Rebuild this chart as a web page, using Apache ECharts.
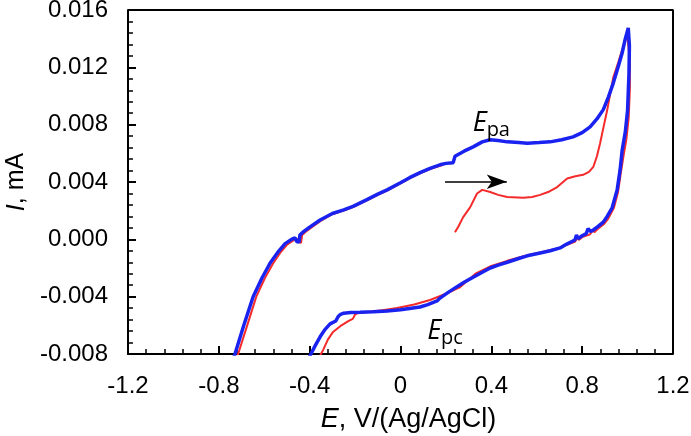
<!DOCTYPE html>
<html>
<head>
    <meta charset="utf-8">
    <title>CV</title>
    <script src="https://cdn.jsdelivr.net/npm/echarts@6/dist/echarts.min.js"></script>
    <style>
        html, body { margin: 0; padding: 0; background: #fff; }
        #chart { width: 691px; height: 436px; }
    </style>
</head>
<body>
<div id="chart"></div>
<script>
    // axis ticks
    let xMin = -1.2, xMax = 1.2, xStep = 0.4;
    let yMin = -0.008, yMax = 0.016, yStep = 0.004;
    let xTickLabels = ['-1.2', '-0.8', '-0.4', '0', '0.4', '0.8', '1.2'];
    let yTickLabels = ['-0.008', '-0.004', '0.000', '0.004', '0.008', '0.012', '0.016'];

    // blue curve: E (V), I (mA)
    let blueE = [-0.739, -0.729, -0.69, -0.649, -0.61, -0.574, -0.54, -0.508, -0.48, -0.465, -0.457, -0.447, -0.443, -0.43,
        -0.40, -0.354, -0.30, -0.25, -0.209, -0.15, -0.10, -0.059, 0.0, 0.04, 0.086, 0.13, 0.174, 0.20, 0.232, 0.24,
        0.28, 0.32, 0.36, 0.395, 0.43, 0.47, 0.52, 0.558, 0.61, 0.659, 0.71, 0.76, 0.80, 0.835, 0.865, 0.893, 0.915,
        0.937, 0.958, 0.976, 0.99, 1.003,
        1.008, 1.006, 1.0, 0.99, 0.976, 0.967, 0.954, 0.932, 0.91, 0.893, 0.87, 0.849, 0.838, 0.826, 0.818, 0.80,
        0.782, 0.775, 0.768, 0.73, 0.703, 0.659, 0.615, 0.558, 0.527, 0.47, 0.43, 0.395, 0.36, 0.32, 0.28, 0.249,
        0.21, 0.174, 0.161, 0.12, 0.086, 0.0, -0.059, -0.12, -0.178, -0.22, -0.25, -0.266, -0.275, -0.285, -0.31,
        -0.333, -0.354, -0.375, -0.398, -0.41];
    let blueI = [-0.0085, -0.008, -0.006, -0.004, -0.0027, -0.00165, -0.0009, -0.0003, 0.0, 0.0001, -0.00015, -0.0002, 0.0003, 0.0005,
        0.00085, 0.00135, 0.0018, 0.00205, 0.0023, 0.00275, 0.00315, 0.00345, 0.00395, 0.0043, 0.00465, 0.00495, 0.0052, 0.0053, 0.00535, 0.0058,
        0.00615, 0.00645, 0.0068, 0.00695, 0.0069, 0.0068, 0.00675, 0.0067, 0.00675, 0.0068, 0.00695, 0.00715, 0.00745, 0.00785, 0.0084, 0.00905, 0.0099,
        0.0109, 0.012, 0.013, 0.014, 0.01475,
        0.0135, 0.0115, 0.009, 0.0075, 0.0062, 0.00485, 0.00345, 0.0022, 0.0016, 0.0012, 0.0009, 0.00065, 0.00055, 0.00075, 0.0004, 0.00025,
        0.00005, 0.0003, -0.00005, -0.00035, -0.0006, -0.0008, -0.00095, -0.00115, -0.0013, -0.0016, -0.0018, -0.002, -0.0023, -0.00265, -0.003, -0.0033,
        -0.0037, -0.0041, -0.0043, -0.00455, -0.00472, -0.00492, -0.005, -0.00505, -0.00508, -0.0051, -0.00515, -0.00525, -0.0054, -0.0057, -0.0059,
        -0.0063, -0.0068, -0.0074, -0.0081, -0.0086];

    // red curve: E (V), I (mA)
    let redE = [0.24, 0.255, 0.276, 0.307, 0.337, 0.36, 0.395, 0.43, 0.47, 0.54, 0.58, 0.615, 0.65, 0.69, 0.734, 0.77,
        0.804, 0.83, 0.849, 0.865, 0.879, 0.895, 0.91, 0.937, 0.958, 0.976, 0.998,
        1.01, 1.01, 1.005, 0.995, 0.982, 0.97, 0.958, 0.94, 0.915, 0.895, 0.87, 0.855, 0.845, 0.835, 0.80, 0.785,
        0.778, 0.77, 0.73, 0.70, 0.62, 0.55, 0.47, 0.40, 0.33, 0.263, 0.2, 0.13, 0.06, -0.015, -0.08, -0.147, -0.19,
        -0.2, -0.21, -0.23, -0.26, -0.297, -0.32, -0.34, -0.354, -0.36,
        -0.722, -0.715, -0.675, -0.635, -0.597, -0.562, -0.53, -0.498, -0.47, -0.455, -0.448, -0.438, -0.433, -0.42,
        -0.39, -0.35, -0.30, -0.25, -0.209, -0.15, -0.10, -0.059, 0.0, 0.04, 0.086, 0.13, 0.188];
    let redI = [0.0005, 0.0009, 0.00155, 0.00225, 0.0032, 0.00345, 0.0033, 0.0031, 0.00295, 0.0029, 0.00295, 0.0031, 0.0033, 0.00365, 0.00425, 0.0044,
        0.0045, 0.0047, 0.00505, 0.0058, 0.0067, 0.0079, 0.009, 0.0113, 0.0123, 0.0132, 0.0143,
        0.0125, 0.0105, 0.0085, 0.007, 0.0058, 0.0046, 0.0033, 0.0022, 0.00145, 0.00105, 0.00075, 0.0005, 0.0006, 0.00035, 0.00015, -0.00005,
        0.00015, -0.00015, -0.0004, -0.0006, -0.0009, -0.00115, -0.0015, -0.00185, -0.0024, -0.00333, -0.0038, -0.00423, -0.00455, -0.00479, -0.00495, -0.00507, -0.00515,
        -0.00525, -0.00555, -0.0057, -0.006, -0.00646, -0.007, -0.0077, -0.0081, -0.0086,
        -0.0086, -0.008, -0.006, -0.004, -0.0027, -0.0017, -0.00095, -0.00035, -0.00005, 0.00005, -0.0002, -0.00025, 0.0003, 0.0005,
        0.00085, 0.0013, 0.00175, 0.002, 0.00225, 0.0027, 0.0031, 0.0034, 0.0039, 0.00425, 0.0046, 0.0049, 0.0052];

    function zip(a, b) {
        return a.map(function (v, i) { return [v, b[i]]; });
    }

    let myChart = echarts.init(document.getElementById('chart'));
    let font = 'Liberation Sans, Arial, sans-serif';
    let noteFont = 'Open Sans, sans-serif';

    let axisCommon = {
        axisLine: {onZero: false, lineStyle: {color: '#000', width: 2}},
        axisTick: {inside: true, length: 8, lineStyle: {color: '#000', width: 2}},
        minorTick: {show: true, splitNumber: 5, length: 5, lineStyle: {color: '#000', width: 1.5}},
        splitLine: {show: false}
    };

    let option = {
        animation: false,
        grid: {
            left: 128, right: 18, top: 10, bottom: 82,
            outerBoundsMode: 'none'
        },
        xAxis: Object.assign({
            type: 'value',
            min: xMin, max: xMax, interval: xStep,
            name: '{i|E}, V/(Ag/AgCl)',
            nameLocation: 'middle',
            nameGap: 52,
            nameTextStyle: {
                color: '#000', fontSize: 27, fontFamily: font, padding: [0, 0, 0, 16],
                rich: {i: {fontStyle: 'italic', fontSize: 27, fontFamily: font, color: '#000'}}
            },
            axisLabel: {
                color: '#000', fontSize: 24, fontFamily: font, margin: 20,
                formatter: function (v) { return xTickLabels[Math.round((v - xMin) / xStep)]; }
            }
        }, axisCommon),
        yAxis: Object.assign({
            type: 'value',
            min: yMin, max: yMax, interval: yStep,
            name: '{i|I}, mA',
            nameLocation: 'middle',
            nameGap: 98,
            nameTextStyle: {
                color: '#000', fontSize: 25, fontFamily: font,
                rich: {i: {fontStyle: 'italic', fontSize: 25, fontFamily: font, color: '#000'}}
            },
            axisLabel: {
                color: '#000', fontSize: 24, fontFamily: font, margin: 20,
                formatter: function (v) { return yTickLabels[Math.round((v - yMin) / yStep)]; }
            }
        }, axisCommon),
        series: [
            {
                // top and right edges of the plot frame
                name: 'frame',
                type: 'line',
                data: [[xMin, yMax], [xMax, yMax], [xMax, yMin]],
                showSymbol: false,
                clip: false,
                silent: true,
                lineStyle: {color: '#000', width: 2},
                z: 1
            },
            {
                name: 'red',
                type: 'line',
                data: zip(redE, redI),
                showSymbol: false,
                smooth: false,
                lineStyle: {color: '#f52a2a', width: 2}
            },
            {
                name: 'blue',
                type: 'line',
                data: zip(blueE, blueI),
                showSymbol: false,
                smooth: false,
                lineStyle: {color: '#1a22f0', width: 3.5},
                markPoint: {
                    symbol: 'circle',
                    symbolSize: 0,
                    silent: true,
                    label: {
                        show: true,
                        position: 'inside',
                        color: '#000',
                        rich: {
                            e: {fontSize: 27, fontStyle: 'italic', fontFamily: noteFont, color: '#000'},
                            s: {fontSize: 20, fontFamily: noteFont, color: '#000', padding: [14, 0, 0, 0]}
                        }
                    },
                    data: [
                        {coord: [0.40, 0.0081], label: {formatter: '{e|E}{s|pa}'}},
                        {coord: [0.196, -0.0064], label: {formatter: '{e|E}{s|pc}'}}
                    ]
                },
                markLine: {
                    silent: true,
                    symbol: ['none', 'arrow'],
                    symbolSize: [11, 20],
                    label: {show: false},
                    lineStyle: {color: '#000', width: 1.5, type: 'solid'},
                    data: [[{coord: [0.196, 0.00402]}, {coord: [0.468, 0.00402]}]]
                }
            }
        ]
    };

    myChart.setOption(option);
</script>
</body>
</html>
